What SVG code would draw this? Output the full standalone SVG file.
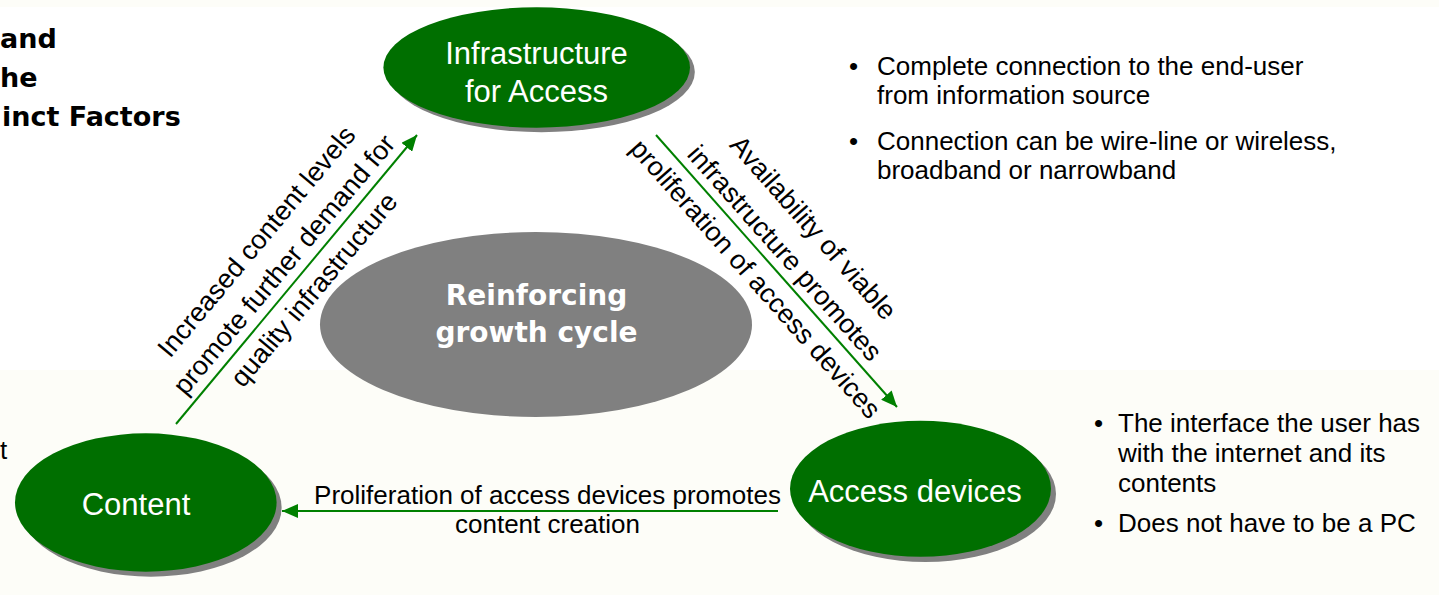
<svg xmlns="http://www.w3.org/2000/svg" width="1439" height="595" viewBox="0 0 1439 595">
  <style>
    .node { fill: #006f00; }
    .shadow { fill: #808080; }
    .hub { fill: #808080; }
    .ntext { font-family: "Liberation Sans", Arial, sans-serif; font-size: 31px; fill: #ffffff; text-anchor: middle; }
    .htext { font-family: "DejaVu Sans", Verdana, sans-serif; font-weight: bold; font-size: 28px; fill: #ffffff; text-anchor: middle; }
    .label { font-family: "Liberation Sans", Arial, sans-serif; font-size: 27px; fill: #000000; text-anchor: middle; }
    .body { font-family: "Liberation Sans", Arial, sans-serif; font-size: 26px; fill: #000000; }
    .title { font-family: "DejaVu Sans", Verdana, sans-serif; font-weight: bold; font-size: 27px; fill: #000000; }
    .conn { stroke: #008000; stroke-width: 2; fill: none; marker-end: url(#head); }
  </style>
  <defs>
    <marker id="head" markerUnits="userSpaceOnUse" markerWidth="18" markerHeight="14" refX="16" refY="7" orient="auto">
      <path d="M0,0 L16,7 L0,14 Z" fill="#008000"/>
    </marker>
  </defs>

  <!-- page background with white upper band -->
  <rect x="0" y="0" width="1439" height="595" fill="#fdfdf8"/>
  <rect x="0" y="7" width="1439" height="363" fill="#ffffff"/>

  <!-- heading lines at the left edge -->
  <g id="heading">
    <text class="title" x="0" y="48">and</text>
    <text class="title" x="0" y="87">he</text>
    <text class="title" x="2" y="126">inct Factors</text>
  </g>
  <text class="body" x="0" y="459">t</text>

  <!-- central hub -->
  <g id="hub">
    <ellipse class="hub" cx="536" cy="324.5" rx="216" ry="92.5"/>
    <text class="htext" x="536.5" y="305">Reinforcing</text>
    <text class="htext" x="536.5" y="342">growth cycle</text>
  </g>

  <g id="infrastructure">
    <ellipse class="shadow" cx="541.5" cy="72" rx="153.3" ry="60.2"/>
    <ellipse class="node" cx="536.7" cy="67.5" rx="153.3" ry="60.2"/>
    <text class="ntext" x="536.5" y="64">Infrastructure</text>
    <text class="ntext" x="536.5" y="102">for Access</text>
  </g>

  <g id="content">
    <ellipse class="shadow" cx="150.8" cy="507.5" rx="130.8" ry="69.2"/>
    <ellipse class="node" cx="145.8" cy="502.5" rx="130.8" ry="69.2"/>
    <text class="ntext" x="136" y="515">Content</text>
  </g>

  <g id="access-devices">
    <ellipse class="shadow" cx="925.5" cy="494" rx="130.5" ry="68"/>
    <ellipse class="node" cx="920.5" cy="488.7" rx="130.5" ry="68"/>
    <text class="ntext" x="915" y="502">Access devices</text>
  </g>

  <!-- description bullets -->
  <g id="infrastructure-notes">
    <text class="body" y="75"><tspan x="849">•</tspan><tspan x="877">Complete connection to the end-user</tspan><tspan x="877" dy="29">from information source</tspan></text>
    <text class="body" y="150"><tspan x="849">•</tspan><tspan x="877">Connection can be wire-line or wireless,</tspan><tspan x="877" dy="29">broadband or narrowband</tspan></text>
  </g>
  <g id="device-notes">
    <text class="body" y="432"><tspan x="1094">•</tspan><tspan x="1118">The interface the user has</tspan><tspan x="1118" dy="30">with the internet and its</tspan><tspan x="1118" dy="30">contents</tspan></text>
    <text class="body" y="532"><tspan x="1094">•</tspan><tspan x="1118">Does not have to be a PC</tspan></text>
  </g>

  <!-- connectors of the cycle -->
  <g id="connectors">
    <line class="conn" x1="176" y1="424" x2="417" y2="135"/>
    <line class="conn" x1="656" y1="135" x2="897" y2="407"/>
    <line class="conn" x1="778" y1="511" x2="282" y2="511"/>

    <g transform="translate(296.5,279.5) rotate(-50.07)">
      <text class="label" x="3.5" y="-46">Increased content levels</text>
      <text class="label" x="3.5" y="-10">promote further demand for</text>
      <text class="label" x="3.5" y="29">quality infrastructure</text>
    </g>
    <g transform="translate(776.5,271) rotate(48.46)">
      <text class="label" x="-8" y="-47">Availability of viable</text>
      <text class="label" x="-8" y="-9">infrastructure promotes</text>
      <text class="label" x="-8" y="30">proliferation of access devices</text>
    </g>
    <text class="label" x="547.5" y="504" style="font-size:26px">Proliferation of access devices promotes</text>
    <text class="label" x="547.5" y="533" style="font-size:26px">content creation</text>
  </g>
</svg>
